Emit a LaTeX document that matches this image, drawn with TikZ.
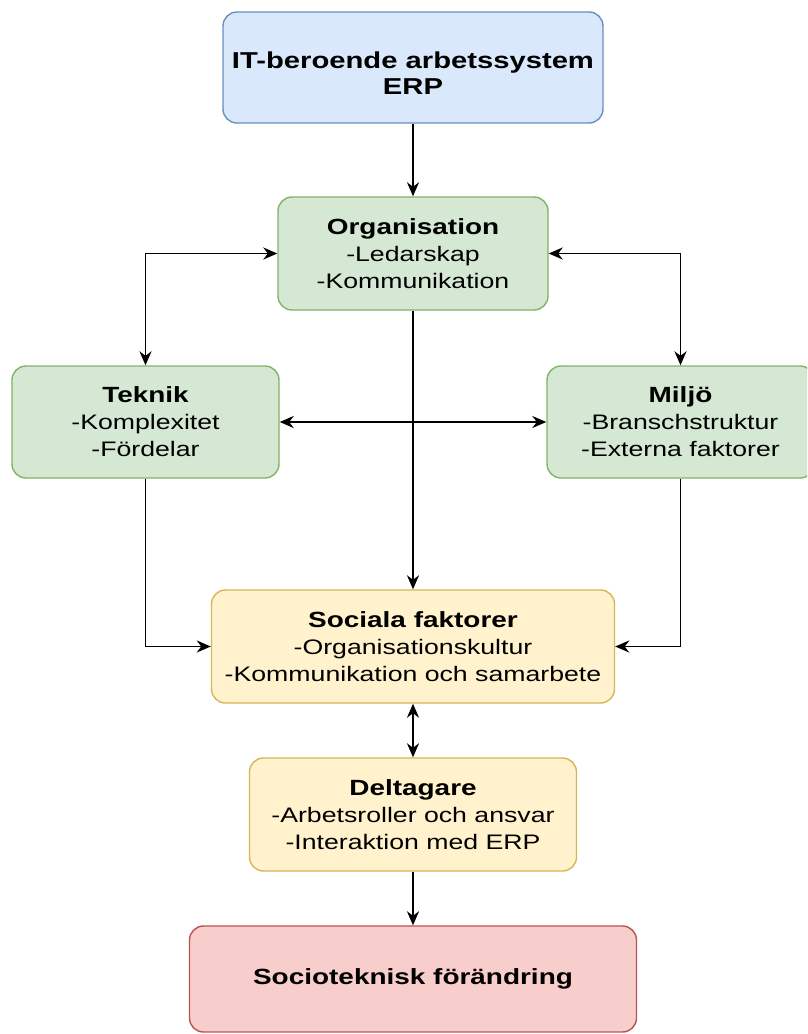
\documentclass[tikz,border=0pt]{standalone}
\usepackage{fontspec}
\setmainfont[FakeStretch=1.27]{Liberation Sans}
\usetikzlibrary{arrows.meta}
\definecolor{bluefill}{HTML}{DAE8FC}
\definecolor{bluedraw}{HTML}{6C8EBF}
\definecolor{greenfill}{HTML}{D5E8D4}
\definecolor{greendraw}{HTML}{82B366}
\definecolor{yellowfill}{HTML}{FFF2CC}
\definecolor{yellowdraw}{HTML}{D6B656}
\definecolor{redfill}{HTML}{F8CECC}
\definecolor{reddraw}{HTML}{B85450}
\newcommand{\ttl}[1]{{\fontsize{22}{27}\selectfont\bfseries #1}}
\begin{document}
\begin{tikzpicture}[x=1pt,y=-1pt,
  box/.style={draw, rounded corners=14pt, line width=1.4pt, align=center, inner sep=0pt,
    font=\fontsize{21}{27}\selectfont},
  bluebox/.style={box, fill=bluefill, draw=bluedraw},
  greenbox/.style={box, fill=greenfill, draw=greendraw},
  yellowbox/.style={box, fill=yellowfill, draw=yellowdraw},
  redbox/.style={box, fill=redfill, draw=reddraw},
  tip/.style={Stealth[length=14pt,width=12pt,inset=4.5pt]},
  arr/.style={line width=1.9pt, -{Stealth[length=14pt,width=12pt,inset=4.5pt]}},
  biarr/.style={line width=1.9pt, {Stealth[length=14pt,width=12pt,inset=4.5pt]}-{Stealth[length=14pt,width=12pt,inset=4.5pt]}}]
\useasboundingbox (0,0) rectangle (807,1034);
\clip (0,0) rectangle (807,1034);
\fill[white] (0,0) rectangle (807,1034);

\node[bluebox, minimum width=380pt, minimum height=111pt,
  label={[yshift=-6pt, align=center, font=\fontsize{23}{26}\selectfont\bfseries]center:IT-beroende arbetssystem\\ERP}]
  (top) at (413,67.5) {};
\node[greenbox, minimum width=270pt, minimum height=113pt] (org) at (413,253.5)
  {\ttl{Organisation}\\-Ledarskap\\-Kommunikation};
\node[greenbox, minimum width=267pt, minimum height=112pt] (tek) at (145.5,422)
  {\ttl{Teknik}\\-Komplexitet\\-Fördelar};
\node[greenbox, minimum width=267pt, minimum height=112pt] (mil) at (680.5,422)
  {\ttl{Miljö}\\-Branschstruktur\\-Externa faktorer};
\node[yellowbox, minimum width=403pt, minimum height=113pt] (soc) at (413,646.5)
  {\ttl{Sociala faktorer}\\-Organisationskultur\\-Kommunikation och samarbete};
\node[yellowbox, minimum width=327pt, minimum height=113pt] (del) at (413,814.5)
  {\ttl{Deltagare}\\-Arbetsroller och ansvar\\-Interaktion med ERP};
\node[redbox, minimum width=447pt, minimum height=106pt] (chg) at (413,979)
  {\ttl{Socioteknisk förändring}};

\draw[arr] (top) -- (org);
\draw[biarr] (org.west) -| (tek.north);
\draw[biarr] (org.east) -| (mil.north);
\draw[biarr] (tek.east) -- (mil.west);
\draw[arr] (org) -- (soc);
\draw[arr] (tek.south) |- (soc.west);
\draw[arr] (mil.south) |- (soc.east);
\draw[biarr] (soc) -- (del);
\draw[arr] (del) -- (chg);
\end{tikzpicture}
\end{document}
